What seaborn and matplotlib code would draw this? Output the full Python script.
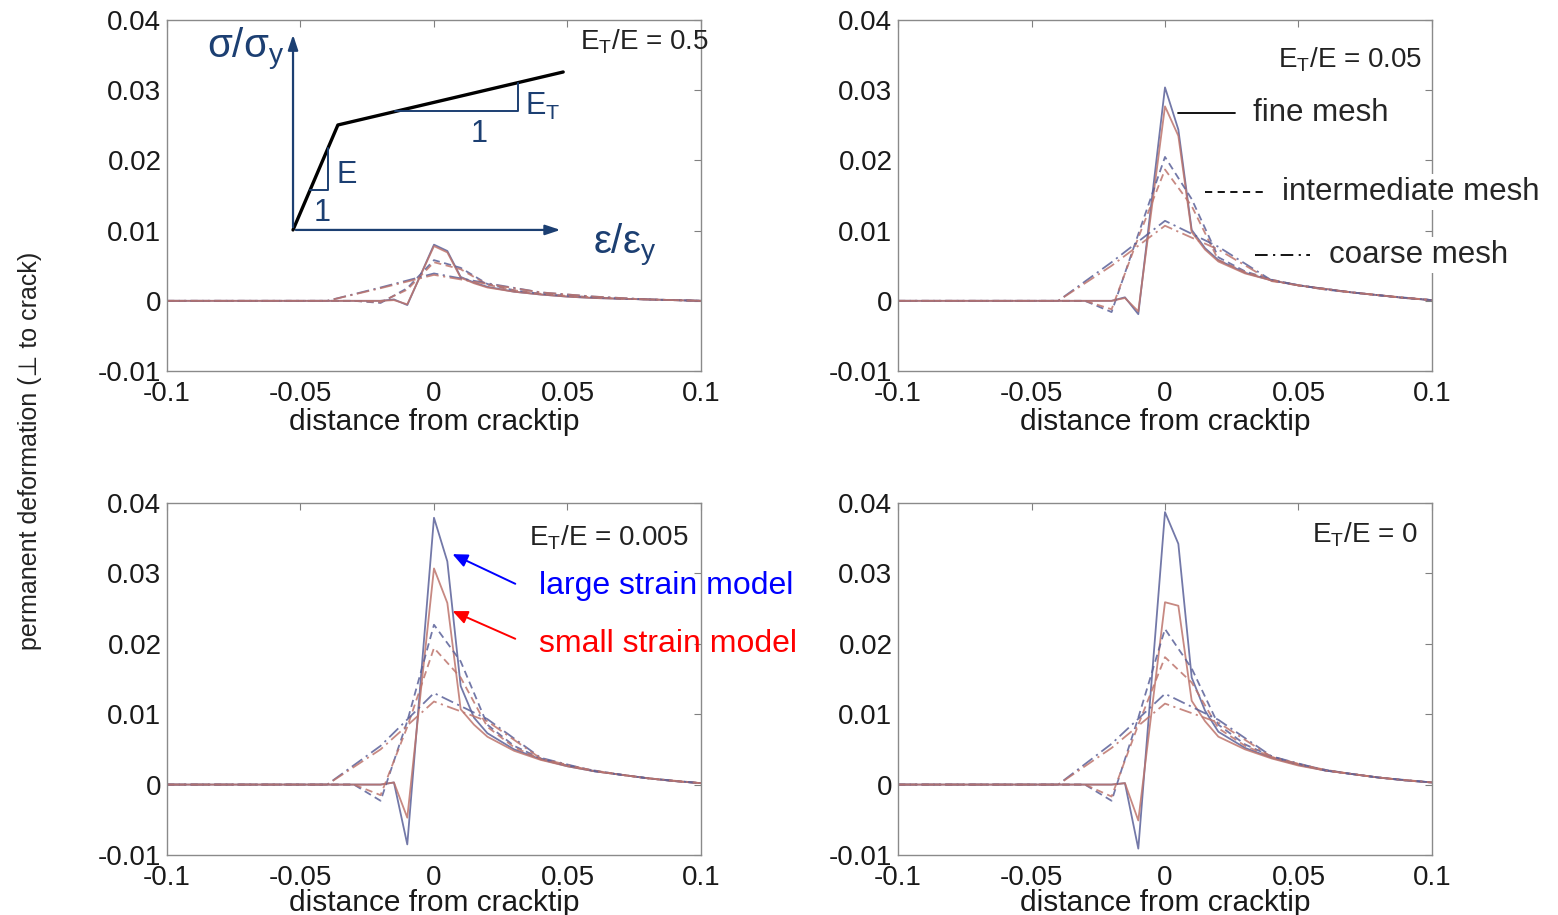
import matplotlib
matplotlib.use("Agg")
import matplotlib.pyplot as plt
import seaborn as sns

# node positions of the three meshes (distance from cracktip)
x_fine = [-0.1, -0.02, -0.015, -0.01, 0.0, 0.005, 0.01, 0.015, 0.02, 0.03, 0.04, 0.05, 0.06, 0.07, 0.08, 0.09, 0.1]
x_mid = [-0.1, -0.03, -0.02, -0.01, 0.0, 0.01, 0.02, 0.03, 0.04, 0.05, 0.06, 0.07, 0.08, 0.09, 0.1]
x_coarse = [-0.1, -0.04, -0.02, 0.0, 0.02, 0.04, 0.06, 0.08, 0.1]

# E_T/E = 0.5
p1_fine_large = [0, 0, 0.0002, -0.0006, 0.0080, 0.0071, 0.0034, 0.0026, 0.0020, 0.0013, 0.0009, 0.0006, 0.0004, 0.0003, 0.0002, 0.0001, 0.0]
p1_fine_small = [0, 0, 0.0001, -0.0005, 0.0078, 0.0069, 0.0033, 0.0025, 0.0019, 0.0013, 0.0009, 0.0006, 0.0004, 0.0003, 0.0002, 0.0001, 0.0]
p1_mid_large = [0, 0, -0.0003, 0.0018, 0.0058, 0.0047, 0.0024, 0.0015, 0.0010, 0.0007, 0.0005, 0.0003, 0.0002, 0.0001, 0.0]
p1_mid_small = [0, 0, -0.0002, 0.0016, 0.0055, 0.0045, 0.0023, 0.0015, 0.0010, 0.0007, 0.0005, 0.0003, 0.0002, 0.0001, 0.0]
p1_coarse_large = [0, 0, 0.0019, 0.0039, 0.0025, 0.0012, 0.0006, 0.0002, 0.0]
p1_coarse_small = [0, 0, 0.0018, 0.0037, 0.0024, 0.0012, 0.0006, 0.0002, 0.0]

# E_T/E = 0.05
p2_fine_large = [0, 0, 0.0005, -0.0019, 0.0304, 0.0244, 0.0101, 0.0075, 0.0058, 0.0040, 0.0029, 0.0022, 0.0017, 0.0012, 0.0008, 0.0004, 0.0001]
p2_fine_small = [0, 0, 0.0004, -0.0015, 0.0277, 0.0235, 0.0098, 0.0073, 0.0056, 0.0039, 0.0029, 0.0022, 0.0017, 0.0012, 0.0008, 0.0004, 0.0001]
p2_mid_large = [0, 0, -0.0016, 0.0095, 0.0205, 0.0145, 0.0062, 0.0042, 0.0030, 0.0022, 0.0017, 0.0012, 0.0008, 0.0004, 0.0001]
p2_mid_small = [0, 0, -0.0012, 0.0090, 0.0187, 0.0135, 0.0058, 0.0041, 0.0030, 0.0022, 0.0017, 0.0012, 0.0008, 0.0004, 0.0001]
p2_coarse_large = [0, 0, 0.0055, 0.0114, 0.0077, 0.0029, 0.0016, 0.0008, 0.0001]
p2_coarse_small = [0, 0, 0.0050, 0.0107, 0.0073, 0.0028, 0.0016, 0.0008, 0.0001]

# E_T/E = 0.005
p3_fine_large = [0, 0, 0.0003, -0.0085, 0.0379, 0.0317, 0.0140, 0.0095, 0.0073, 0.0050, 0.0036, 0.0026, 0.0019, 0.0014, 0.0009, 0.0005, 0.0002]
p3_fine_small = [0, 0, 0.0003, -0.0047, 0.0307, 0.0258, 0.0107, 0.0085, 0.0068, 0.0048, 0.0035, 0.0026, 0.0019, 0.0014, 0.0009, 0.0005, 0.0002]
p3_mid_large = [0, 0, -0.0023, 0.0090, 0.0227, 0.0175, 0.0085, 0.0055, 0.0037, 0.0027, 0.0020, 0.0014, 0.0009, 0.0005, 0.0002]
p3_mid_small = [0, 0, -0.0015, 0.0082, 0.0194, 0.0152, 0.0082, 0.0053, 0.0036, 0.0027, 0.0020, 0.0014, 0.0009, 0.0005, 0.0002]
p3_coarse_large = [0, 0, 0.0055, 0.0130, 0.0093, 0.0038, 0.0019, 0.0009, 0.0002]
p3_coarse_small = [0, 0, 0.0050, 0.0118, 0.0090, 0.0037, 0.0019, 0.0009, 0.0002]

# E_T/E = 0
p4_fine_large = [0, 0, 0.0002, -0.0091, 0.0387, 0.0342, 0.0152, 0.0105, 0.0075, 0.0052, 0.0038, 0.0028, 0.0020, 0.0015, 0.0010, 0.0006, 0.0003]
p4_fine_small = [0, 0, 0.0002, -0.0051, 0.0259, 0.0254, 0.0119, 0.0090, 0.0068, 0.0050, 0.0037, 0.0027, 0.0020, 0.0015, 0.0010, 0.0006, 0.0003]
p4_mid_large = [0, 0, -0.0023, 0.0095, 0.0221, 0.0165, 0.0085, 0.0057, 0.0040, 0.0029, 0.0021, 0.0015, 0.0010, 0.0006, 0.0003]
p4_mid_small = [0, 0, -0.0017, 0.0085, 0.0181, 0.0145, 0.0080, 0.0055, 0.0039, 0.0029, 0.0021, 0.0015, 0.0010, 0.0006, 0.0003]
p4_coarse_large = [0, 0, 0.0058, 0.0129, 0.0092, 0.0040, 0.0020, 0.0010, 0.0003]
p4_coarse_small = [0, 0, 0.0052, 0.0115, 0.0088, 0.0039, 0.0020, 0.0010, 0.0003]

panel_titles = ["E$_\\mathregular{T}$/E = 0.5", "E$_\\mathregular{T}$/E = 0.05",
                "E$_\\mathregular{T}$/E = 0.005", "E$_\\mathregular{T}$/E = 0"]
x_ticks = [-0.1, -0.05, 0, 0.05, 0.1]
x_ticklabels = ["-0.1", "-0.05", "0", "0.05", "0.1"]
y_ticks = [-0.01, 0, 0.01, 0.02, 0.03, 0.04]
y_ticklabels = ["-0.01", "0", "0.01", "0.02", "0.03", "0.04"]

panels = [
    [p1_fine_large, p1_fine_small, p1_mid_large, p1_mid_small, p1_coarse_large, p1_coarse_small],
    [p2_fine_large, p2_fine_small, p2_mid_large, p2_mid_small, p2_coarse_large, p2_coarse_small],
    [p3_fine_large, p3_fine_small, p3_mid_large, p3_mid_small, p3_coarse_large, p3_coarse_small],
    [p4_fine_large, p4_fine_small, p4_mid_large, p4_mid_small, p4_coarse_large, p4_coarse_small],
]

sns.set_style("white")
plt.rcParams["font.family"] = ["Liberation Sans", "DejaVu Sans"]
plt.rcParams["mathtext.default"] = "regular"

BLUE = "#5a6199"
RED = "#bd746c"
NAVY = "#1c3f72"
dash = (0, (4, 2.5))
dashdot = (0, (7, 2.5, 1.2, 2.5))

fig = plt.figure(figsize=(15.58, 9.15), dpi=100)
boxes = [
    [0.1072, 0.5945, 0.3427, 0.3836],
    [0.5764, 0.5945, 0.3427, 0.3836],
    [0.1072, 0.0656, 0.3427, 0.3847],
    [0.5764, 0.0656, 0.3427, 0.3847],
]
title_pos = [(1.015, 0.937), (0.981, 0.886), (0.976, 0.90), (0.974, 0.909)]

axes = []
for i, box in enumerate(boxes):
    ax = fig.add_axes(box)
    series = panels[i]
    xs = [x_fine, x_fine, x_mid, x_mid, x_coarse, x_coarse]
    styles = ["-", "-", dash, dash, dashdot, dashdot]
    colors = [BLUE, RED, BLUE, RED, BLUE, RED]
    for xv, yv, ls, c in zip(xs, series, styles, colors):
        sns.lineplot(x=xv, y=yv, ax=ax, color=c, lw=1.3, alpha=0.85,
                     estimator=None, sort=False)
        ax.lines[-1].set_linestyle(ls)
    ax.set_xlim(-0.1, 0.1)
    ax.set_ylim(-0.01, 0.04)
    ax.set_xticks(x_ticks)
    ax.set_xticklabels(x_ticklabels)
    ax.set_yticks(y_ticks)
    ax.set_yticklabels(y_ticklabels)
    ax.tick_params(direction="in", length=5, width=0.8, color="#808080",
                   top=True, right=True, labelsize=20, labelcolor="#1a1a1a")
    ax.tick_params(axis="x", pad=7)
    ax.tick_params(axis="y", pad=4)
    for s in ax.spines.values():
        s.set_color("#8a8a8a")
        s.set_linewidth(1.0)
    ax.set_xlabel("distance from cracktip", fontsize=21.5,
                  labelpad=1 if i < 2 else -1, color="#1a1a1a")
    ax.text(title_pos[i][0], title_pos[i][1], panel_titles[i], transform=ax.transAxes,
            ha="right", va="center", fontsize=20, color="#222222", zorder=5)
    axes.append(ax)

# stress-strain sketch in the first panel
a1 = axes[0]
tr = a1.transAxes
arrow_kw = dict(arrowstyle="-|>,head_length=0.9,head_width=0.3", color=NAVY, lw=1.6)
a1.annotate("", xy=(0.236, 0.966), xytext=(0.236, 0.402), xycoords=tr, textcoords=tr,
            arrowprops=arrow_kw, annotation_clip=False)
a1.annotate("", xy=(0.742, 0.402), xytext=(0.236, 0.402), xycoords=tr, textcoords=tr,
            arrowprops=arrow_kw, annotation_clip=False)
a1.plot([0.236, 0.320, 0.742], [0.402, 0.701, 0.852], color="black", lw=2.4,
        transform=tr, clip_on=False)
a1.plot([0.268, 0.301, 0.301], [0.516, 0.516, 0.635], color=NAVY, lw=1.4, transform=tr)
a1.plot([0.427, 0.657, 0.657], [0.741, 0.741, 0.822], color=NAVY, lw=1.4, transform=tr)
a1.text(0.318, 0.558, "E", transform=tr, color=NAVY, fontsize=22, va="center")
a1.text(0.291, 0.450, "1", transform=tr, color=NAVY, fontsize=22, ha="center", va="center")
a1.text(0.670, 0.755, "E$_\\mathregular{T}$", transform=tr, color=NAVY, fontsize=22, va="center")
a1.text(0.584, 0.676, "1", transform=tr, color=NAVY, fontsize=22, ha="center", va="center")
a1.text(0.148, 0.915, "σ/σ$_\\mathregular{y}$", transform=tr, color=NAVY, fontsize=29,
        ha="center", va="center")
a1.text(0.858, 0.359, "ε/ε$_\\mathregular{y}$", transform=tr, color=NAVY, fontsize=29,
        ha="center", va="center", clip_on=False)

# mesh legend next to the second panel
a2 = axes[1]
tr2 = a2.transAxes
leg = [("fine mesh", "-", 0.524, 0.631, 0.665, 0.735),
       ("intermediate mesh", (0, (4, 3)), 0.575, 0.687, 0.719, 0.510),
       ("coarse mesh", (0, (7, 3, 1.2, 3)), 0.669, 0.772, 0.807, 0.330)]
for label, ls, x0, x1, xt, yl in leg:
    a2.plot([x0, x1], [yl, yl], color="black", lw=1.3, linestyle=ls, transform=tr2,
            clip_on=False, zorder=6)
    a2.text(xt, yl, label, transform=tr2, fontsize=22.5, va="center", ha="left", zorder=6,
            bbox=dict(facecolor="white", edgecolor="none", pad=2), clip_on=False)

# model annotations in the third panel
a3 = axes[2]
tr3 = a3.transAxes
for label, c, yt, tail, head in [("large strain model", "blue", 0.764, (0.657, 0.767), (0.530, 0.858)),
                                 ("small strain model", "red", 0.599, (0.657, 0.611), (0.530, 0.696))]:
    a3.text(0.697, yt, label, transform=tr3, color=c, fontsize=23, va="center", ha="left",
            clip_on=False, zorder=6)
    a3.annotate("", xy=head, xytext=tail, xycoords=tr3, textcoords=tr3,
                arrowprops=dict(arrowstyle="-|>,head_length=0.9,head_width=0.4", color=c, lw=1.4),
                annotation_clip=False)

fig.text(0.019, 0.507, "permanent deformation (⊥ to crack)", rotation=90, fontsize=18,
         ha="center", va="center", color="#222222")

fig.savefig("out.png", dpi=100)
